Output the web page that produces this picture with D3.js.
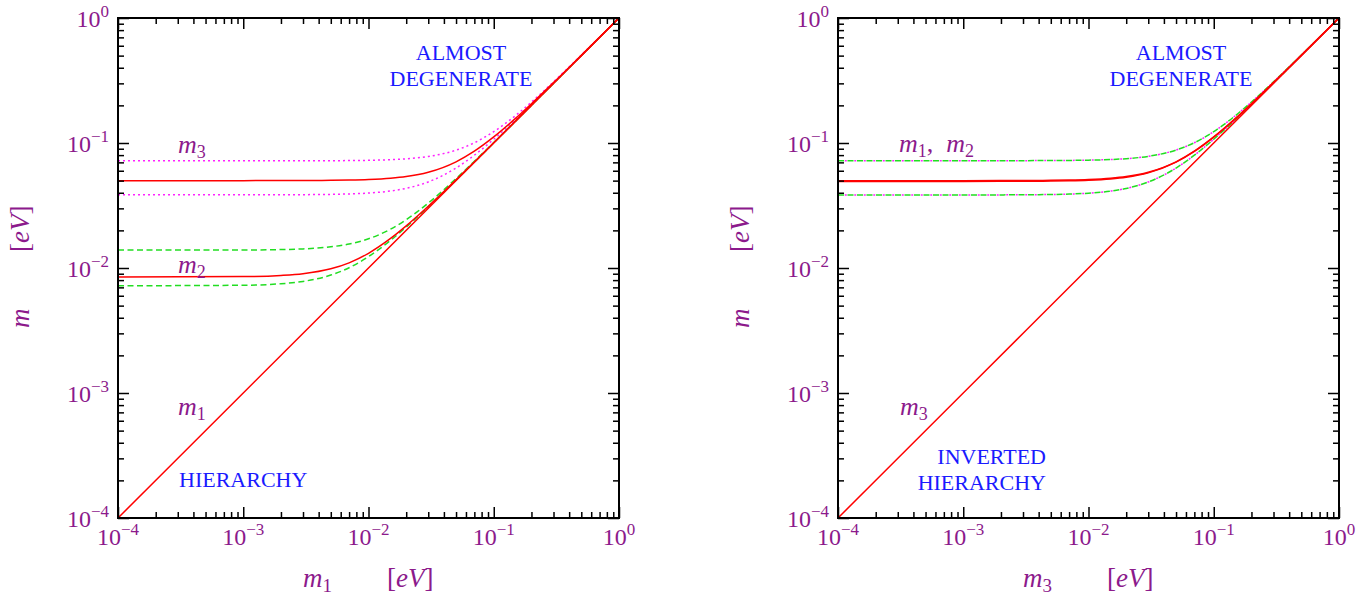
<!DOCTYPE html>
<html lang="en">
<head>
<meta charset="utf-8">
<script src="https://d3js.org/d3.v7.min.js"></script>
<style>
    body { margin: 0; background: #fff; }
</style>
</head>
<body>
<div id="chart"></div>
<script>
// sample points along the lightest mass (eV)
var mLight = [1e-4, 1e-3, 2e-3, 3e-3, 5e-3, 7e-3, 1e-2, 1.5e-2, 2e-2, 3e-2, 5e-2, 7e-2, 0.1, 0.15, 0.2, 0.3, 0.5, 1];

// normal hierarchy (left panel)
var nh_m3     = [0.0500, 0.0500, 0.05004, 0.05009, 0.05025, 0.05049, 0.05099, 0.0522, 0.05385, 0.05831, 0.07071, 0.08602, 0.1118, 0.1581, 0.2062, 0.3041, 0.5025, 1.0];
var nh_m3_hi  = [0.0720, 0.0720, 0.07203, 0.07206, 0.07217, 0.07234, 0.07269, 0.07355, 0.07473, 0.0780, 0.08766, 0.1004, 0.1232, 0.1664, 0.2126, 0.3085, 0.5052, 1.0];
var nh_m3_lo  = [0.0385, 0.0385, 0.03855, 0.03861, 0.03882, 0.03913, 0.03977, 0.04132, 0.04338, 0.04881, 0.0631, 0.07989, 0.1072, 0.1549, 0.2037, 0.3025, 0.5015, 1.0];
var nh_m2     = [0.00849, 0.00854, 0.00872, 0.0090, 0.00985, 0.0110, 0.01311, 0.01723, 0.02173, 0.03118, 0.05072, 0.07051, 0.10036, 0.15024, 0.20018, 0.30012, 0.50007, 1.0];
var nh_m2_hi  = [0.0139, 0.01393, 0.01404, 0.01421, 0.01477, 0.01556, 0.01712, 0.02045, 0.02435, 0.03306, 0.05189, 0.07137, 0.10096, 0.15064, 0.20048, 0.30032, 0.50019, 1.0];
var nh_m2_lo  = [0.00721, 0.00728, 0.00748, 0.00781, 0.00878, 0.01005, 0.01233, 0.01664, 0.02126, 0.03085, 0.05052, 0.07037, 0.10026, 0.15017, 0.20013, 0.30009, 0.50005, 1.0];

// inverted hierarchy (right panel)
var ih_m2     = [0.0500, 0.0500, 0.05004, 0.05009, 0.05025, 0.05049, 0.05099, 0.0522, 0.05385, 0.05831, 0.07071, 0.08602, 0.1118, 0.1581, 0.2062, 0.3041, 0.5025, 1.0];
var ih_m1     = [0.0493, 0.0493, 0.04934, 0.04939, 0.04955, 0.04979, 0.0503, 0.05153, 0.0532, 0.0577, 0.07021, 0.08562, 0.11149, 0.15789, 0.20599, 0.30402, 0.50243, 1.0];
var ih_hi     = [0.0722, 0.0722, 0.07223, 0.07226, 0.07237, 0.07254, 0.07289, 0.07374, 0.07492, 0.07819, 0.08783, 0.1005, 0.1233, 0.1665, 0.2127, 0.3086, 0.5052, 1.0];
var ih_lo     = [0.0384, 0.0384, 0.03845, 0.03852, 0.03872, 0.03903, 0.03968, 0.04124, 0.0433, 0.04874, 0.06304, 0.07985, 0.10713, 0.15485, 0.20366, 0.30245, 0.50148, 1.0];

// tick labels
var decades = [1e-4, 1e-3, 1e-2, 1e-1, 1];
var decadeExp = ["\u22124", "\u22123", "\u22122", "\u22121", "0"];

var W = 1371, H = 599;
var purple = "#8c1a8c", blue = "#1a1aff";
var serif = "'Liberation Serif', 'DejaVu Serif', serif";

var svg = d3.select("#chart").append("svg")
    .attr("width", W).attr("height", H)
    .style("font-family", serif);

// minor ticks 2..9 per decade
var minor = [];
decades.slice(0, 4).forEach(function(d) {
    for (var k = 2; k <= 9; k++) minor.push(d * k);
});

function drawPanel(left, cfg) {
    var x = d3.scaleLog().domain([1e-4, 1]).range([left, left + 501]);
    var y = d3.scaleLog().domain([1e-4, 1]).range([518, 18]);
    var g = svg.append("g");

    var clip = "clip" + left;
    g.append("clipPath").attr("id", clip).append("rect")
        .attr("x", x.range()[0]).attr("y", 18).attr("width", 501).attr("height", 500);

    var line = d3.line()
        .x(function(d) { return x(d[0]); })
        .y(function(d) { return y(d[1]); })
        .curve(d3.curveMonotoneX);

    var curves = g.append("g").attr("clip-path", "url(#" + clip + ")");
    cfg.series.forEach(function(s) {
        curves.append("path")
            .datum(mLight.map(function(m, i) { return [m, s.values[i]]; }))
            .attr("d", line)
            .attr("fill", "none")
            .attr("stroke", s.color)
            .attr("stroke-width", s.width || 1.5)
            .attr("stroke-dasharray", s.dash || null)
            .attr("stroke-dashoffset", s.offset || 0);
    });
    // diagonal: lightest mass itself
    curves.append("path")
        .datum(decades.map(function(d) { return [d, d]; }))
        .attr("d", line)
        .attr("fill", "none").attr("stroke", "red").attr("stroke-width", 1.5);

    // inner ticks on all four sides
    function ticks(axis, tr, vals, size) {
        g.append("g").attr("transform", tr)
            .call(axis.tickValues(vals).tickSize(-size).tickFormat(""))
            .call(function(a) { a.select(".domain").remove(); a.selectAll("line").attr("stroke-width", 1.5); });
    }
    [[decades, 11], [minor, 6]].forEach(function(p) {
        ticks(d3.axisBottom(x), "translate(0,518)", p[0], p[1]);
        ticks(d3.axisTop(x), "translate(0,18)", p[0], p[1]);
        ticks(d3.axisLeft(y), "translate(" + x.range()[0] + ",0)", p[0], p[1]);
        ticks(d3.axisRight(y), "translate(" + x.range()[1] + ",0)", p[0], p[1]);
    });

    g.append("rect")
        .attr("x", x.range()[0]).attr("y", 18).attr("width", 501).attr("height", 500)
        .attr("fill", "none").attr("stroke", "#000").attr("stroke-width", 2);

    // tick labels
    decades.forEach(function(d, i) {
        var t = g.append("text").attr("x", x(d)).attr("y", 545)
            .attr("text-anchor", "middle").attr("fill", purple).style("font-size", "24px");
        t.append("tspan").text("10");
        t.append("tspan").attr("dy", -10).style("font-size", "17px").text(decadeExp[i]);

        var u = g.append("text").attr("x", x.range()[0] - 9).attr("y", y(d) + 9)
            .attr("text-anchor", "end").attr("fill", purple).style("font-size", "24px");
        u.append("tspan").text("10");
        u.append("tspan").attr("dy", -10).style("font-size", "17px").text(decadeExp[i]);
    });

    // axis titles
    var xt = g.append("text").attr("x", left + 185).attr("y", 587).attr("fill", purple).style("font-size", "27px");
    xt.append("tspan").style("font-style", "italic").text("m");
    xt.append("tspan").attr("dy", 5).style("font-size", "19px").text(cfg.xsub);
    var xu = g.append("text").attr("x", left + 269).attr("y", 587).attr("fill", purple).style("font-size", "27px");
    xu.append("tspan").text("[");
    xu.append("tspan").style("font-style", "italic").text("eV");
    xu.append("tspan").text("]");

    var yx = left - 89;
    g.append("text").attr("transform", "translate(" + yx + ",328) rotate(-90)")
        .attr("fill", purple).style("font-size", "27px").style("font-style", "italic").text("m");
    var yu = g.append("text").attr("transform", "translate(" + yx + ",252) rotate(-90)")
        .attr("fill", purple).style("font-size", "27px");
    yu.append("tspan").text("[");
    yu.append("tspan").style("font-style", "italic").text("eV");
    yu.append("tspan").text("]");

    // curve labels
    cfg.labels.forEach(function(l) {
        var t = g.append("text").attr("x", left + l.dx).attr("y", l.y)
            .attr("fill", purple).style("font-size", "26px");
        l.parts.forEach(function(p) {
            t.append("tspan").style("font-style", "italic").text("m");
            t.append("tspan").attr("dy", 5).style("font-size", "18px").text(p[0]);
            t.append("tspan").attr("dy", -5).text(p[1]);
        });
    });

    // region names
    cfg.notes.forEach(function(n) {
        g.append("text").attr("x", left + n.dx).attr("y", n.y)
            .attr("text-anchor", n.anchor).attr("fill", blue)
            .style("font-size", "22px").text(n.text);
    });
}

drawPanel(118, {
    xsub: "1",
    series: [
        { values: nh_m3_hi, color: "#ff22ff", dash: "2,3" },
        { values: nh_m3_lo, color: "#ff22ff", dash: "2,3" },
        { values: nh_m2_hi, color: "#22dd22", dash: "6,3.5" },
        { values: nh_m2_lo, color: "#22dd22", dash: "6,3.5" },
        { values: nh_m3, color: "red" },
        { values: nh_m2, color: "red" }
    ],
    labels: [
        { dx: 60, y: 153, parts: [["3", ""]] },
        { dx: 60, y: 273, parts: [["2", ""]] },
        { dx: 60, y: 415, parts: [["1", ""]] }
    ],
    notes: [
        { dx: 343, y: 60, anchor: "middle", text: "ALMOST" },
        { dx: 343, y: 86, anchor: "middle", text: "DEGENERATE" },
        { dx: 61, y: 487, anchor: "start", text: "HIERARCHY" }
    ]
});

drawPanel(838, {
    xsub: "3",
    series: [
        { values: ih_hi, color: "#22dd22", dash: "6,3.5" },
        { values: ih_lo, color: "#22dd22", dash: "6,3.5" },
        { values: ih_hi, color: "#ff22ff", dash: "2,7.5", offset: -6.75 },
        { values: ih_lo, color: "#ff22ff", dash: "2,7.5", offset: -6.75 },
        { values: ih_m1, color: "red" },
        { values: ih_m2, color: "red" }
    ],
    labels: [
        { dx: 62, y: 415, parts: [["3", ""]] },
        { dx: 61, y: 152, parts: [["1", ",\u2002"], ["2", ""]] }
    ],
    notes: [
        { dx: 343, y: 60, anchor: "middle", text: "ALMOST" },
        { dx: 343, y: 86, anchor: "middle", text: "DEGENERATE" },
        { dx: 208, y: 464, anchor: "end", text: "INVERTED" },
        { dx: 208, y: 490, anchor: "end", text: "HIERARCHY" }
    ]
});
</script>
</body>
</html>
